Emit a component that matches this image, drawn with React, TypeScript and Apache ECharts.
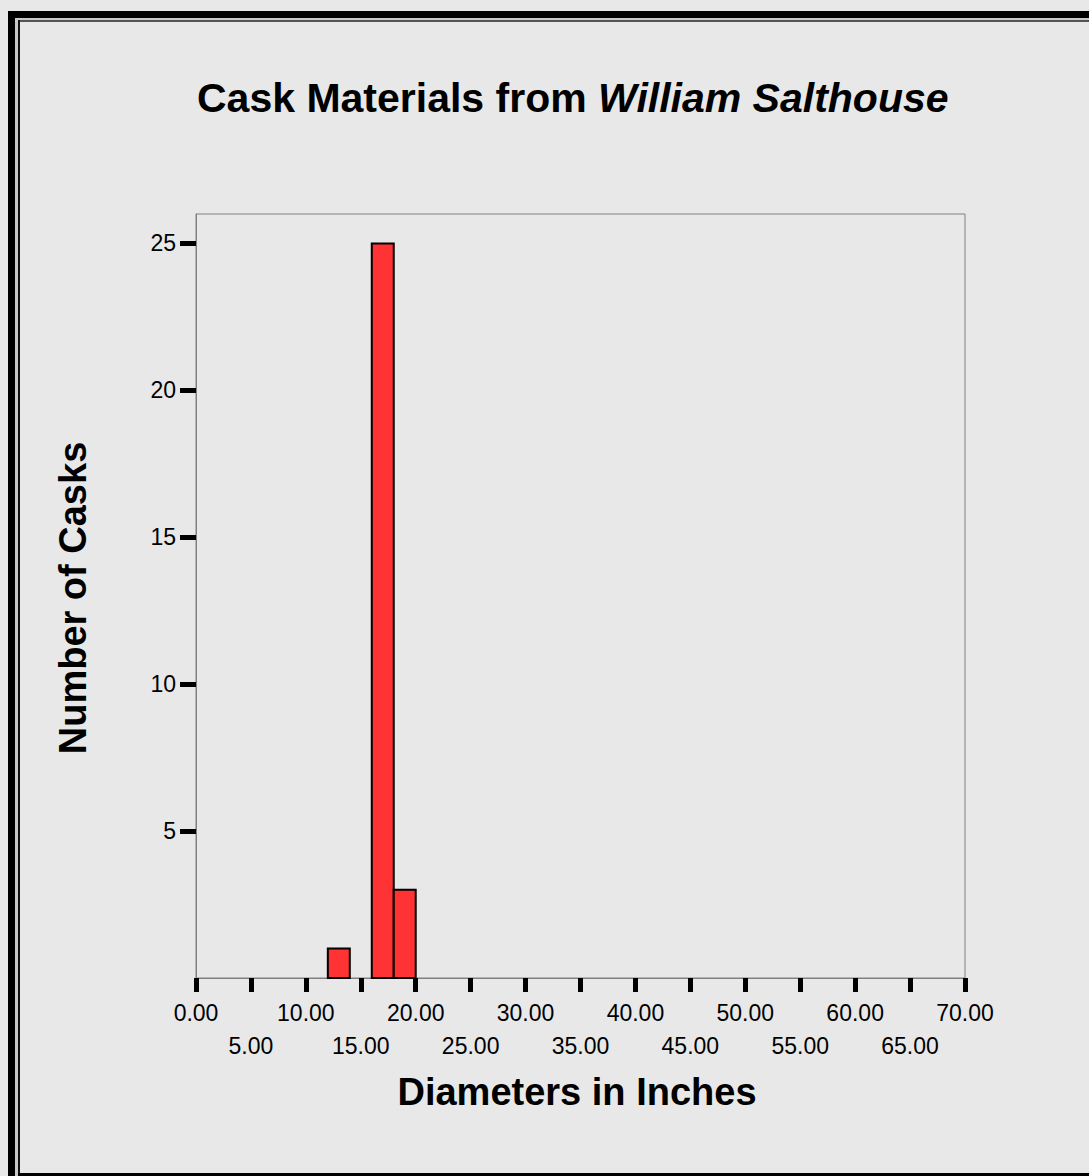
import React, { useEffect, useRef } from "react";
import * as echarts from "echarts";

// ---- data ----
const binStarts = [12, 16, 18];
const binEnds = [14, 18, 20];
const counts = [1, 25, 3];
const yTickValues = [5, 10, 15, 20, 25];
const xLabelsRow1 = [0, 10, 20, 30, 40, 50, 60, 70];
const xLabelsRow2 = [5, 15, 25, 35, 45, 55, 65];
const titlePlain = "Cask Materials from ";
const titleItalic = "William Salthouse";
const xTitle = "Diameters in Inches";
const yTitle = "Number of Casks";

const FONT = "'Liberation Sans', Arial, Helvetica, sans-serif";

export default function App() {
  const ref = useRef<HTMLDivElement>(null);
  useEffect(() => {
    if (!ref.current) return;
    const chart = echarts.init(ref.current, null, { renderer: "svg" });
    const data = binStarts.map((s, i) => [s, binEnds[i], counts[i]]);
    const labelBase = {
      show: true,
      fontFamily: FONT,
      fontSize: 23,
      color: "#000",
      lineHeight: 32,
      showMinLabel: true,
      showMaxLabel: true,
      formatter: (v: number) => v.toFixed(2),
    };
    chart.setOption({
      animation: false,
      backgroundColor: "#e8e8e8",
      title: {
        text: `{n|${titlePlain}}{i|${titleItalic}}`,
        left: 197,
        top: 74,
        padding: 0,
        textStyle: {
          rich: {
            n: { fontFamily: FONT, fontSize: 41, fontWeight: "bold", color: "#000", lineHeight: 48 },
            i: { fontFamily: FONT, fontSize: 41, fontWeight: "bold", fontStyle: "italic", color: "#000", lineHeight: 48 },
          },
        },
      },
      grid: {
        left: 196,
        top: 214,
        width: 769,
        height: 764,
        show: true,
        borderColor: "#808080",
        borderWidth: 1,
        backgroundColor: "transparent",
        containLabel: false,
      },
      xAxis: [
        {
          type: "value",
          min: 0,
          max: 70,
          interval: 5,
          position: "bottom",
          splitLine: { show: false },
          axisLine: { show: true, lineStyle: { color: "#808080", width: 1 } },
          axisTick: { show: true, length: 14, lineStyle: { color: "#000", width: 5 } },
          axisLabel: { ...labelBase, margin: 19, customValues: xLabelsRow1 },
        },
        {
          type: "value",
          min: 0,
          max: 70,
          interval: 5,
          position: "bottom",
          offset: 0,
          splitLine: { show: false },
          axisLine: { show: false },
          axisTick: { show: false },
          axisLabel: { ...labelBase, margin: 52, customValues: xLabelsRow2 },
        },
      ],
      yAxis: {
        type: "value",
        min: 0,
        max: 26,
        splitLine: { show: false },
        axisLine: { show: true, lineStyle: { color: "#808080", width: 1 } },
        axisTick: { show: true, length: 16, lineStyle: { color: "#000", width: 5 }, customValues: yTickValues },
        axisLabel: {
          show: true,
          margin: 20,
          fontFamily: FONT,
          fontSize: 23,
          color: "#000",
          customValues: yTickValues,
          formatter: (v: number) => String(v),
        },
      },
      series: [
        {
          type: "custom",
          xAxisIndex: 0,
          data,
          encode: { x: [0, 1], y: 2 },
          renderItem: (params: any, api: any) => {
            const p0 = api.coord([api.value(0), 0]);
            const p1 = api.coord([api.value(1), api.value(2)]);
            return {
              type: "rect",
              shape: { x: p0[0], y: p1[1], width: p1[0] - p0[0], height: p0[1] - p1[1] },
              style: { fill: "#ff3333", stroke: "#000", lineWidth: 2 },
            };
          },
        },
      ],
      graphic: [
        { type: "rect", shape: { x: 15, y: 18, width: 1074, height: 2 }, style: { fill: "#c8c8c8" }, silent: true },
        { type: "rect", shape: { x: 15, y: 18, width: 3, height: 1158 }, style: { fill: "#c8c8c8" }, silent: true },
        { type: "rect", shape: { x: 8, y: 11, width: 1081, height: 7 }, style: { fill: "#000" }, silent: true },
        { type: "rect", shape: { x: 8, y: 11, width: 7, height: 1165 }, style: { fill: "#000" }, silent: true },
        { type: "rect", shape: { x: 18, y: 20, width: 1071, height: 2 }, style: { fill: "#555" }, silent: true },
        { type: "rect", shape: { x: 18, y: 20, width: 2, height: 1153 }, style: { fill: "#111" }, silent: true },
        { type: "rect", shape: { x: 18, y: 1173, width: 1071, height: 3 }, style: { fill: "#000" }, silent: true },
        {
          type: "text",
          x: 577,
          y: 1092,
          style: {
            text: xTitle,
            fontFamily: FONT,
            fontSize: 38,
            fontWeight: "bold",
            fill: "#000",
            align: "center",
            verticalAlign: "middle",
          },
        },
        {
          type: "text",
          x: 73,
          y: 598,
          rotation: Math.PI / 2,
          style: {
            text: yTitle,
            fontFamily: FONT,
            fontSize: 38,
            fontWeight: "bold",
            fill: "#000",
            align: "center",
            verticalAlign: "middle",
          },
        },
      ],
    });
    return () => chart.dispose();
  }, []);
  return (
    <div
      ref={ref}
      style={{ position: "fixed", left: 0, top: 0, width: 1089, height: 1176, background: "#e8e8e8" }}
    />
  );
}
